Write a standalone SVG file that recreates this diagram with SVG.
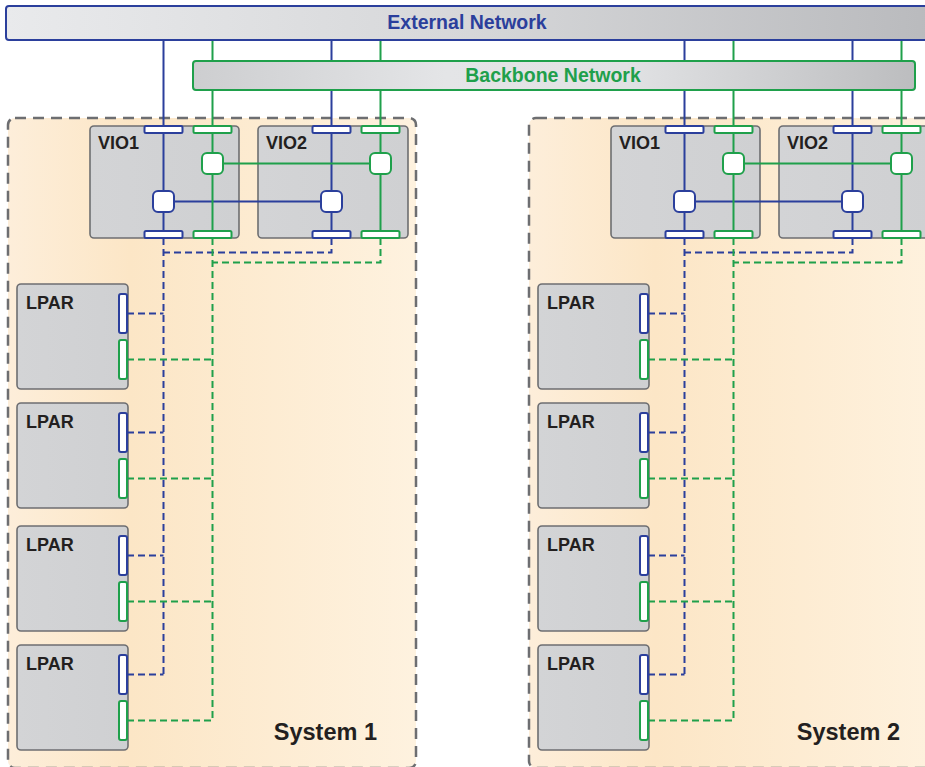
<svg xmlns="http://www.w3.org/2000/svg" width="925" height="767" viewBox="0 0 925 767">
<defs>
<linearGradient id="gExt" x1="0" y1="0" x2="1" y2="0">
<stop offset="0" stop-color="#e9eaec"/><stop offset="0.5" stop-color="#d6d7d9"/><stop offset="1" stop-color="#b9babd"/>
</linearGradient>
<linearGradient id="gBack" x1="0" y1="0" x2="1" y2="0">
<stop offset="0" stop-color="#cdced0"/><stop offset="0.35" stop-color="#e4e5e7"/><stop offset="0.6" stop-color="#e1e2e4"/><stop offset="1" stop-color="#bcbdbf"/>
</linearGradient>
<linearGradient id="gSys" x1="0" y1="0" x2="1" y2="0">
<stop offset="0" stop-color="#fdeeda"/><stop offset="0.3" stop-color="#fce6c6"/><stop offset="1" stop-color="#fef2df"/>
</linearGradient>
<linearGradient id="gBox" x1="0" y1="0" x2="1" y2="0">
<stop offset="0" stop-color="#d3d4d6"/><stop offset="1" stop-color="#cfd0d2"/>
</linearGradient>
</defs>
<style>
.sys{fill:url(#gSys);stroke:#6d6e71;stroke-width:2.5;stroke-dasharray:11 7}
.box{fill:url(#gBox);stroke:#6d6e71;stroke-width:1.6}
.lbl{font-family:"Liberation Sans",Arial,sans-serif;font-weight:bold;font-size:18px;fill:#231f20}
.sysl{font-family:"Liberation Sans",Arial,sans-serif;font-weight:bold;font-size:23.5px;fill:#231f20}
.net{font-family:"Liberation Sans",Arial,sans-serif;font-weight:bold;font-size:19.5px;text-anchor:middle}
.pb{fill:#fff;stroke:#2b3f9c;stroke-width:2}
.pg{fill:#fff;stroke:#1fa04b;stroke-width:2}
.b{stroke:#2b3f9c;stroke-width:2;fill:none}
.g{stroke:#1fa04b;stroke-width:2;fill:none}
.bd{stroke:#2b3f9c;stroke-width:2;fill:none;stroke-dasharray:7 4}
.gd{stroke:#1fa04b;stroke-width:2;fill:none;stroke-dasharray:7 4}
</style>

<g id="system1"><rect class="sys" x="8" y="118" width="408" height="650" rx="7"/><text class="sysl" x="377" y="740" text-anchor="end">System 1</text></g>
<g id="system2"><rect class="sys" x="529" y="118" width="420" height="650" rx="7"/><text class="sysl" x="900" y="740" text-anchor="end">System 2</text></g>

<g id="s1-vio1"><rect class="box" x="90" y="126" width="149" height="112" rx="4"/><text class="lbl" x="98" y="149">VIO1</text></g>
<g id="s1-vio2"><rect class="box" x="258" y="126" width="150" height="112" rx="4"/><text class="lbl" x="266" y="149">VIO2</text></g>
<g id="s2-vio1"><rect class="box" x="611" y="126" width="149" height="112" rx="4"/><text class="lbl" x="619" y="149">VIO1</text></g>
<g id="s2-vio2"><rect class="box" x="779" y="126" width="150" height="112" rx="4"/><text class="lbl" x="787" y="149">VIO2</text></g>

<g id="s1-lpar1"><rect class="box" x="17" y="284" width="111" height="105" rx="4"/><text class="lbl" x="26" y="309">LPAR</text></g>
<g id="s1-lpar2"><rect class="box" x="17" y="403" width="111" height="105" rx="4"/><text class="lbl" x="26" y="428">LPAR</text></g>
<g id="s1-lpar3"><rect class="box" x="17" y="526" width="111" height="105" rx="4"/><text class="lbl" x="26" y="551">LPAR</text></g>
<g id="s1-lpar4"><rect class="box" x="17" y="645" width="111" height="105" rx="4"/><text class="lbl" x="26" y="670">LPAR</text></g>
<g id="s2-lpar1"><rect class="box" x="538" y="284" width="111" height="105" rx="4"/><text class="lbl" x="547" y="309">LPAR</text></g>
<g id="s2-lpar2"><rect class="box" x="538" y="403" width="111" height="105" rx="4"/><text class="lbl" x="547" y="428">LPAR</text></g>
<g id="s2-lpar3"><rect class="box" x="538" y="526" width="111" height="105" rx="4"/><text class="lbl" x="547" y="551">LPAR</text></g>
<g id="s2-lpar4"><rect class="box" x="538" y="645" width="111" height="105" rx="4"/><text class="lbl" x="547" y="670">LPAR</text></g>

<g id="connectors">
<path class="b" d="M163.5 40V238M331.5 40V238M163.5 201.5H331.5"/>
<path class="g" d="M212.5 40V238M380.5 40V238M212.5 163.5H380.5"/>
<path class="bd" d="M163.5 238V674M331.5 238V252.5H163.5M127 313.5H163.5M127 432.5H163.5M127 555.5H163.5M127 674.5H163.5"/>
<path class="gd" d="M212.5 238V720M380.5 238V262.5H212.5M127 359.5H212.5M127 478.5H212.5M127 601.5H212.5M127 720.5H212.5"/>
<path class="b" d="M684.5 40V238M852.5 40V238M684.5 201.5H852.5"/>
<path class="g" d="M733.5 40V238M901.5 40V238M733.5 163.5H901.5"/>
<path class="bd" d="M684.5 238V674M852.5 238V252.5H684.5M648 313.5H684.5M648 432.5H684.5M648 555.5H684.5M648 674.5H684.5"/>
<path class="gd" d="M733.5 238V720M901.5 238V262.5H733.5M648 359.5H733.5M648 478.5H733.5M648 601.5H733.5M648 720.5H733.5"/>
</g>

<g id="s1-vio1-ports">
<rect class="pb" x="144.5" y="126" width="38" height="7" rx="1.5"/><rect class="pg" x="193.5" y="126" width="38" height="7" rx="1.5"/>
<rect class="pb" x="144.5" y="231" width="38" height="7" rx="1.5"/><rect class="pg" x="193.5" y="231" width="38" height="7" rx="1.5"/>
<rect class="pb" x="153" y="191" width="21" height="21" rx="5"/><rect class="pg" x="202" y="153" width="21" height="21" rx="5"/>
</g>
<g id="s1-vio2-ports">
<rect class="pb" x="312.5" y="126" width="38" height="7" rx="1.5"/><rect class="pg" x="361.5" y="126" width="38" height="7" rx="1.5"/>
<rect class="pb" x="312.5" y="231" width="38" height="7" rx="1.5"/><rect class="pg" x="361.5" y="231" width="38" height="7" rx="1.5"/>
<rect class="pb" x="321" y="191" width="21" height="21" rx="5"/><rect class="pg" x="370" y="153" width="21" height="21" rx="5"/>
</g>
<g id="s2-vio1-ports">
<rect class="pb" x="665.5" y="126" width="38" height="7" rx="1.5"/><rect class="pg" x="714.5" y="126" width="38" height="7" rx="1.5"/>
<rect class="pb" x="665.5" y="231" width="38" height="7" rx="1.5"/><rect class="pg" x="714.5" y="231" width="38" height="7" rx="1.5"/>
<rect class="pb" x="674" y="191" width="21" height="21" rx="5"/><rect class="pg" x="723" y="153" width="21" height="21" rx="5"/>
</g>
<g id="s2-vio2-ports">
<rect class="pb" x="833.5" y="126" width="38" height="7" rx="1.5"/><rect class="pg" x="882.5" y="126" width="38" height="7" rx="1.5"/>
<rect class="pb" x="833.5" y="231" width="38" height="7" rx="1.5"/><rect class="pg" x="882.5" y="231" width="38" height="7" rx="1.5"/>
<rect class="pb" x="842" y="191" width="21" height="21" rx="5"/><rect class="pg" x="891" y="153" width="21" height="21" rx="5"/>
</g>
<g id="s1-lpar-ports">
<rect class="pb" x="119" y="294" width="8" height="39" rx="2"/><rect class="pg" x="119" y="340" width="8" height="39" rx="2"/>
<rect class="pb" x="119" y="413" width="8" height="39" rx="2"/><rect class="pg" x="119" y="459" width="8" height="39" rx="2"/>
<rect class="pb" x="119" y="536" width="8" height="39" rx="2"/><rect class="pg" x="119" y="582" width="8" height="39" rx="2"/>
<rect class="pb" x="119" y="655" width="8" height="39" rx="2"/><rect class="pg" x="119" y="701" width="8" height="39" rx="2"/>
</g>
<g id="s2-lpar-ports">
<rect class="pb" x="640" y="294" width="8" height="39" rx="2"/><rect class="pg" x="640" y="340" width="8" height="39" rx="2"/>
<rect class="pb" x="640" y="413" width="8" height="39" rx="2"/><rect class="pg" x="640" y="459" width="8" height="39" rx="2"/>
<rect class="pb" x="640" y="536" width="8" height="39" rx="2"/><rect class="pg" x="640" y="582" width="8" height="39" rx="2"/>
<rect class="pb" x="640" y="655" width="8" height="39" rx="2"/><rect class="pg" x="640" y="701" width="8" height="39" rx="2"/>
</g>

<g id="external-network">
<rect x="6" y="6" width="930" height="34" rx="3" fill="url(#gExt)" stroke="#2b3f9c" stroke-width="2"/>
<text class="net" x="467" y="29" fill="#2b3f9c">External Network</text>
</g>
<g id="backbone-network">
<rect x="193" y="61" width="722" height="29" rx="3" fill="url(#gBack)" stroke="#1fa04b" stroke-width="2"/>
<text class="net" x="553" y="82" fill="#1fa04b">Backbone Network</text>
</g>
</svg>
